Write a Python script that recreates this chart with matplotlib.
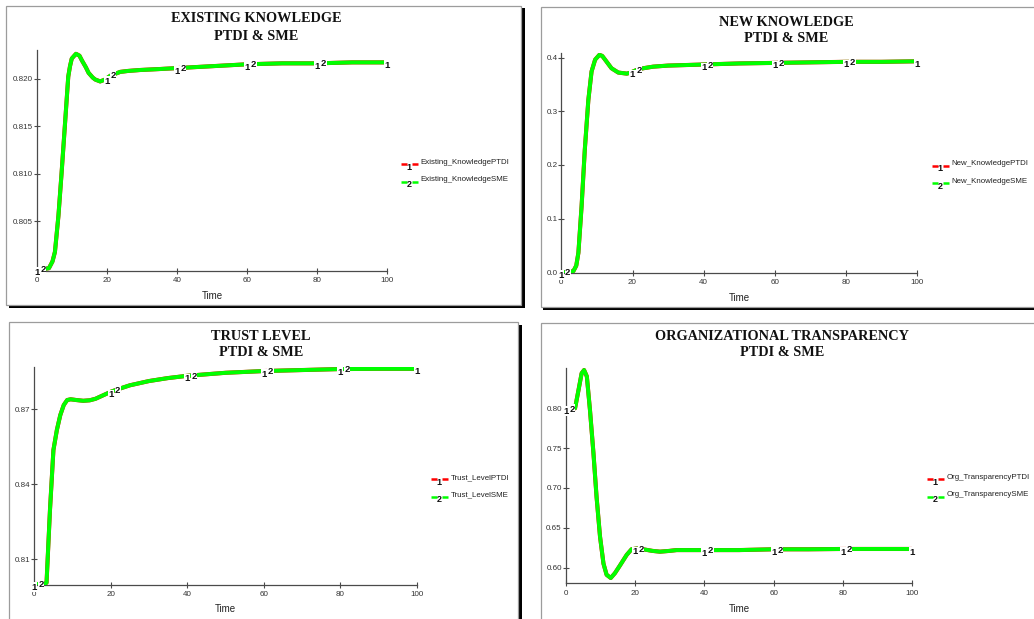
import numpy as np
import matplotlib
matplotlib.use('Agg')
import matplotlib.pyplot as plt
from matplotlib.patches import Rectangle
from matplotlib.lines import Line2D

W, H = 1034, 619
DPI = 100

# ---------------- data ----------------
ek_time = [0, 2, 3.5, 4.5, 5.2, 6.2, 7.1, 8.1, 9.0, 9.5, 10, 11.2, 12.2, 12.9, 14, 14.8,
           16, 16.7, 18.1, 19.5, 21, 23.8, 26, 29.5, 35, 40, 50, 60, 70, 80, 90, 100]
ek_ptdi = [0.8000, 0.8000, 0.8001, 0.8008, 0.8018, 0.8056, 0.8101, 0.8154, 0.8202, 0.8213,
           0.8221, 0.8226, 0.8224, 0.8219, 0.8212, 0.8206, 0.8201, 0.8199, 0.8197, 0.8199,
           0.8203, 0.8207, 0.8208, 0.8209, 0.8210, 0.8211, 0.8213, 0.8215, 0.8216, 0.8216,
           0.8217, 0.8217]
ek_sme = list(ek_ptdi)

nk_time = [0, 2, 3.4, 4.2, 4.8, 5.7, 6.6, 7.6, 8.5, 9.5, 10.7, 11.5, 12.3, 13.2, 14.1, 16,
           18.4, 19.5, 21.2, 23, 25.8, 30, 35, 40, 50, 60, 70, 80, 90, 100]
nk_ptdi = [0.0, 0.0, 0.002, 0.012, 0.036, 0.123, 0.228, 0.321, 0.374, 0.396, 0.405, 0.403,
           0.396, 0.388, 0.380, 0.372, 0.370, 0.372, 0.377, 0.380, 0.383, 0.385, 0.386,
           0.387, 0.389, 0.390, 0.391, 0.392, 0.392, 0.393]
nk_sme = list(nk_ptdi)

tl_time = [0, 2.5, 3.2, 4.1, 5.0, 5.9, 6.8, 7.7, 8.6, 9.5, 11, 12.8, 14.5, 16, 18, 20, 22,
           25, 30, 35, 40, 50, 60, 70, 80, 90, 100]
tl_ptdi = [0.8000, 0.8000, 0.8005, 0.8296, 0.8536, 0.8616, 0.8676, 0.8716, 0.8736, 0.8739,
           0.8736, 0.8733, 0.8735, 0.8741, 0.8755, 0.8769, 0.8780, 0.8795, 0.8812, 0.8824,
           0.8833, 0.8845, 0.8852, 0.8856, 0.8860, 0.8861, 0.8861]
tl_sme = list(tl_ptdi)

ot_time = [0, 2.7, 3.7, 4.6, 5.3, 6.1, 7, 8, 8.9, 9.9, 10.9, 11.8, 13, 14.2, 15.7, 17.6, 19,
           20.5, 22.4, 25, 27.2, 30, 32, 36, 40, 50, 60, 70, 80, 90, 100]
ot_ptdi = [0.800, 0.800, 0.823, 0.844, 0.848, 0.840, 0.798, 0.744, 0.689, 0.639, 0.605,
           0.591, 0.587, 0.593, 0.603, 0.616, 0.623, 0.624, 0.623, 0.621, 0.620, 0.621,
           0.622, 0.622, 0.622, 0.622, 0.623, 0.623, 0.6234, 0.6234, 0.6234]
ot_sme = list(ot_ptdi)

x_ticks = [0, 20, 40, 60, 80, 100]
ek_yticks = [0.805, 0.810, 0.815, 0.820]
nk_yticks = [0.0, 0.1, 0.2, 0.3, 0.4]
tl_yticks = [0.81, 0.84, 0.87]
ot_yticks = [0.60, 0.65, 0.70, 0.75, 0.80]

label1_times = [0, 20, 40, 60, 80, 100]
label2_times = [1.8, 21.8, 41.8, 61.8, 81.8]

panels = [
    dict(title=("EXISTING KNOWLEDGE", "PTDI & SME"), t=ek_time, s1=ek_ptdi, s2=ek_sme,
         names=("Existing_KnowledgePTDI", "Existing_KnowledgeSME"),
         yticks=ek_yticks, fmt="%.3f", ylim=(0.7998, 0.8230),
         rect=(36.7, 50.0, 387.3, 271.0), title_x=256, title_y=(22.5, 39.5),
         time_y=296, leg=(400.7, 164.0),
         frame=(6, 5.5, 521.5, 304.5)),
    dict(title=("NEW KNOWLEDGE", "PTDI & SME"), t=nk_time, s1=nk_ptdi, s2=nk_sme,
         names=("New_KnowledgePTDI", "New_KnowledgeSME"),
         yticks=nk_yticks, fmt="%.1f", ylim=(-0.001, 0.409),
         rect=(561.3, 52.7, 917.3, 272.7), title_x=786, title_y=(25.5, 41.5),
         time_y=298, leg=(931.7, 165.7),
         frame=(540.7, 7.3, 1040, 306.7)),
    dict(title=("TRUST LEVEL", "PTDI & SME"), t=tl_time, s1=tl_ptdi, s2=tl_sme,
         names=("Trust_LevelPTDI", "Trust_LevelSME"),
         yticks=tl_yticks, fmt="%.2f", ylim=(0.7996, 0.8867),
         rect=(34.3, 367.3, 416.7, 585.0), title_x=261, title_y=(340.5, 356.5),
         time_y=609.5, leg=(430.7, 479.3),
         frame=(9.3, 322.3, 518.3, 640)),
    dict(title=("ORGANIZATIONAL TRANSPARENCY", "PTDI & SME"), t=ot_time, s1=ot_ptdi, s2=ot_sme,
         names=("Org_TransparencyPTDI", "Org_TransparencySME"),
         yticks=ot_yticks, fmt="%.2f", ylim=(0.5803, 0.8502),
         rect=(565.7, 368.3, 912.3, 583.3), title_x=782, title_y=(340.5, 356.5),
         time_y=608.5, leg=(926.7, 479.3),
         frame=(540.7, 323.3, 1040, 640)),
]

RED = '#ff0000'
GREEN = '#00ff00'
AXC = '#4a4a4a'

fig = plt.figure(figsize=(W / DPI, H / DPI), dpi=DPI)
fig.patch.set_facecolor('white')


def fx(x):
    return x / W


def fy(y):
    return 1 - y / H


def frect(x0, y0, x1, y1, **kw):
    fig.patches.append(Rectangle((fx(x0), fy(y1)), (x1 - x0) / W, (y1 - y0) / H,
                                 transform=fig.transFigure, **kw))


# panel frames with drop shadows
for p in panels:
    x0, y0, x1, y1 = p['frame']
    frect(x0 + 2.5, y1, x1 + 3.5, y1 + 3.8, facecolor='black', edgecolor='none', zorder=-3)
    frect(x1, y0 + 2.5, x1 + 3.5, y1 + 3.8, facecolor='black', edgecolor='none', zorder=-3)
    frect(x0, y0, x1, y1, facecolor='white', edgecolor='#9c9c9c', lw=0.9, zorder=-2)

sans = ['Liberation Sans', 'DejaVu Sans']
serif = ['Liberation Serif', 'DejaVu Serif']

for p in panels:
    l, t, r, b = p['rect']
    ax = fig.add_axes([fx(l), fy(b), (r - l) / W, (b - t) / H])
    ax.set_zorder(2)
    ax.set_facecolor('none')
    ax.plot(p['t'], p['s1'], color=RED, lw=2.95, solid_capstyle='butt', zorder=2)
    ax.plot(p['t'], p['s2'], color=GREEN, lw=2.85, solid_capstyle='butt', zorder=3)
    ax.set_xlim(0, 100)
    ax.set_ylim(*p['ylim'])
    ax.set_xticks(x_ticks)
    ax.set_xticklabels([str(v) for v in x_ticks])
    ax.set_yticks(p['yticks'])
    ax.set_yticklabels([p['fmt'] % v for v in p['yticks']])
    for s in ('top', 'right'):
        ax.spines[s].set_visible(False)
    for s in ('left', 'bottom'):
        ax.spines[s].set_color(AXC)
        ax.spines[s].set_linewidth(0.9)
    ax.tick_params(axis='x', direction='inout', length=4, width=0.8, color=AXC,
                   labelsize=5.8, labelcolor='#333333', pad=2.5)
    ax.tick_params(axis='y', direction='inout', length=4, width=0.8, color=AXC,
                   labelsize=5.8, labelcolor='#333333', pad=0.8)
    for lab in ax.get_xticklabels() + ax.get_yticklabels():
        lab.set_family(sans)
    # line number labels
    for tt in label1_times:
        yv = np.interp(tt, p['t'], p['s1'])
        ax.annotate('1', xy=(tt, yv), xytext=(0, -2.2), textcoords='offset points',
                    ha='center', va='center', fontsize=6.8, fontweight='bold',
                    family=sans, color='#111111', zorder=6, annotation_clip=False,
                    bbox=dict(boxstyle='square,pad=0.05', fc='white', ec='none'))
    for tt in label2_times:
        yv = np.interp(tt, p['t'], p['s2'])
        ax.annotate('2', xy=(tt, yv), xytext=(0, -0.6), textcoords='offset points',
                    ha='center', va='center', fontsize=6.8, fontweight='bold',
                    family=sans, color='#111111', zorder=6, annotation_clip=False,
                    bbox=dict(boxstyle='square,pad=0.05', fc='white', ec='none'))
    # titles
    fig.text(fx(p['title_x']), fy(p['title_y'][0]), p['title'][0], ha='center',
             va='baseline', fontsize=10.3, fontweight='bold', family=serif, color='#111111')
    fig.text(fx(p['title_x']), fy(p['title_y'][1]), p['title'][1], ha='center',
             va='baseline', fontsize=10.3, fontweight='bold', family=serif, color='#111111')
    # axis label
    fig.text(fx((l + r) / 2), fy(p['time_y']), 'Time', ha='center', va='center',
             fontsize=7, family=sans, color='#222222')
    # legend
    lx, ly = p['leg']
    for i, (col, num, name) in enumerate([(RED, '1', p['names'][0]),
                                          (GREEN, '2', p['names'][1])]):
        yy = ly + 17.5 * i
        fig.add_artist(Line2D([fx(lx), fx(lx + 6)], [fy(yy), fy(yy)], color=col, lw=1.8,
                              transform=fig.transFigure, solid_capstyle='butt'))
        fig.add_artist(Line2D([fx(lx + 11), fx(lx + 17.6)], [fy(yy), fy(yy)], color=col,
                              lw=1.8, transform=fig.transFigure, solid_capstyle='butt'))
        fig.text(fx(lx + 8.5), fy(yy + 3), num, ha='center', va='center', fontsize=6.5,
                 fontweight='bold', family=sans, color='#111111')
        fig.text(fx(lx + 20), fy(yy - 1.8), name, ha='left', va='center', fontsize=5.7,
                 family=sans, color='#222222')

fig.savefig('out.png', dpi=DPI, facecolor='white')
